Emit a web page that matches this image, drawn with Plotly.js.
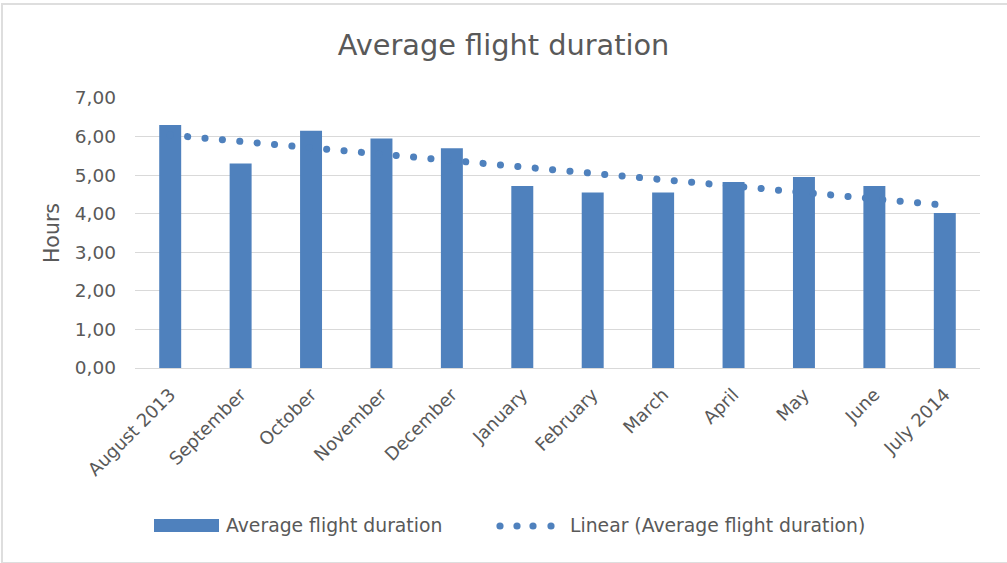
<!DOCTYPE html>
<html>
<head>
<meta charset="utf-8">
<script src="https://cdn.plot.ly/plotly-3.0.1.min.js"></script>
<style>
  html, body { margin: 0; padding: 0; background: #fff; }
  #wrap { position: relative; width: 1007px; height: 563px; overflow: hidden; }
  #chart { width: 1007px; height: 563px; }
  #frame { position: absolute; left: 1px; top: 3px; width: 1020px; height: 557px;
           border: 2px solid #dedede; pointer-events: none; }
</style>
</head>
<body>
<div id="wrap">
  <div id="chart"></div>
  <div id="frame"></div>
</div>
<script>
// ---- data ----
const months = ["August 2013", "September", "October", "November", "December", "January",
                "February", "March", "April", "May", "June", "July 2014"];
const avgDuration = [6.30, 5.30, 6.15, 5.95, 5.70, 4.72, 4.55, 4.55, 4.82, 4.95, 4.72, 4.02];
// linear trendline end values
const trendX = [months[0], months[months.length - 1]];
const trendY = [6.04, 4.22];
const yTicks = [0, 1, 2, 3, 4, 5, 6, 7];

const seriesName = "Average flight duration";
const trendName = "Linear (Average flight duration)";

// ---- styling ----
const BLUE = "#4F81BD";
const TXT = "#595959";
const GRID = "#D9D9D9";
const FONT = "'DejaVu Sans', Verdana, sans-serif";

const W = 1007, H = 563;
const M = {l: 135, r: 27, t: 98, b: 195};
const PW = W - M.l - M.r, PH = H - M.t - M.b;
const px = x => (x - M.l) / PW;
const py = y => (H - M.b - y) / PH;

const traces = [
  {
    type: "bar", x: months, y: avgDuration, name: seriesName,
    marker: {color: BLUE}, showlegend: false, hoverinfo: "x+y"
  },
  {
    type: "scatter", mode: "lines", x: trendX, y: trendY, name: trendName,
    line: {color: BLUE, width: 7, dash: "0.1px,17.35px"}, showlegend: false, hoverinfo: "skip"
  }
];

// legend (drawn manually to match the wide swatches)
const dotCenters = [500, 517, 533, 551];
const shapes = [
  {type: "rect", xref: "paper", yref: "paper", x0: px(154), x1: px(219), y0: py(519), y1: py(532),
   fillcolor: BLUE, line: {width: 0}}
].concat(dotCenters.map(c => ({
  type: "circle", xref: "paper", yref: "paper",
  x0: px(c - 3.6), x1: px(c + 3.6), y0: py(526 - 3.6), y1: py(526 + 3.6),
  fillcolor: BLUE, line: {width: 0}
})));

const annotations = [
  {text: seriesName, xref: "paper", yref: "paper", x: px(224), y: py(525), xanchor: "left", yanchor: "middle",
   showarrow: false, font: {family: FONT, size: 18.8, color: TXT}},
  {text: trendName, xref: "paper", yref: "paper", x: px(568), y: py(525), xanchor: "left", yanchor: "middle",
   showarrow: false, font: {family: FONT, size: 18.8, color: TXT}}
];

const layout = {
  width: W, height: H,
  margin: M,
  paper_bgcolor: "#fff", plot_bgcolor: "#fff",
  separators: ",.",
  font: {family: FONT, color: TXT},
  title: {text: "Average flight duration", x: 0.5, xanchor: "center", y: 1 - 45 / H, yanchor: "middle",
          yref: "container", font: {family: FONT, size: 28.8, color: TXT}},
  bargap: 0.688,
  showlegend: false,
  xaxis: {
    type: "category", tickangle: -45, tickfont: {family: FONT, size: 18, color: TXT},
    showgrid: false, showline: true, linecolor: GRID, linewidth: 1, ticks: "",
    ticklabelstandoff: 8, fixedrange: true
  },
  yaxis: {
    range: [0, 7], tickvals: yTicks, tickformat: ".2f", tickfont: {family: FONT, size: 18.5, color: TXT},
    showgrid: true, gridcolor: GRID, gridwidth: 1, zeroline: true, zerolinecolor: GRID, zerolinewidth: 1,
    showline: false, ticks: "", ticklabelstandoff: 18,
    title: {text: "Hours", font: {family: FONT, size: 20.5, color: TXT}, standoff: 9}, fixedrange: true
  },
  shapes: shapes,
  annotations: annotations
};

Plotly.newPlot("chart", traces, layout, {displayModeBar: false, staticPlot: true}).then(gd => {
  gd.querySelectorAll(".scatterlayer path.js-line").forEach(p => {
    p.style.strokeLinecap = "round";
  });
});
</script>
</body>
</html>
